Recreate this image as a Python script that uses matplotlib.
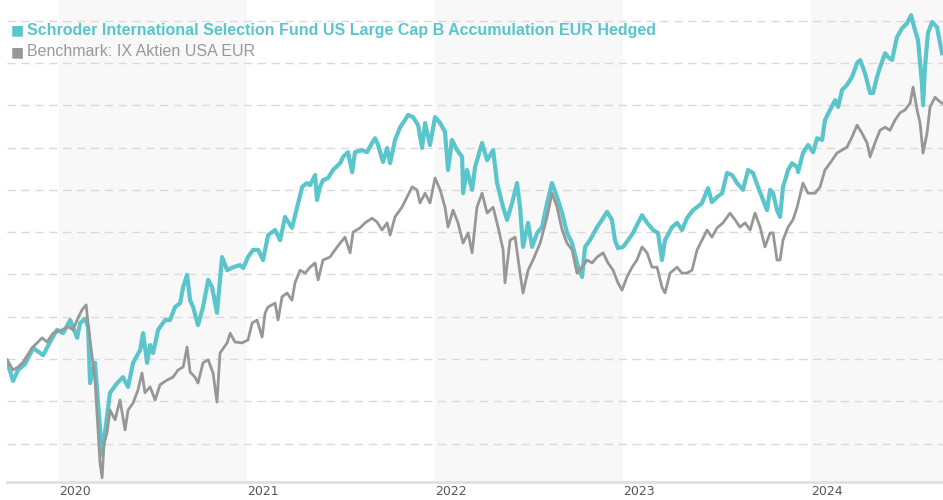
import matplotlib
matplotlib.use("Agg")
import matplotlib.pyplot as plt

# time in decimal years, values indexed (arbitrary scale, gridlines every 10)
fund_t = [2019.723, 2019.755, 2019.782, 2019.819, 2019.862, 2019.915, 2019.952, 2019.989,
          2020.021, 2020.059, 2020.096, 2020.112, 2020.138, 2020.154, 2020.165, 2020.191,
          2020.229, 2020.271, 2020.309, 2020.340, 2020.367, 2020.394, 2020.431, 2020.447,
          2020.468, 2020.484, 2020.500, 2020.527, 2020.564, 2020.590, 2020.617, 2020.644,
          2020.660, 2020.681, 2020.697, 2020.713, 2020.739, 2020.766, 2020.793, 2020.814,
          2020.840, 2020.867, 2020.894, 2020.926, 2020.963, 2020.979, 2021.005, 2021.032,
          2021.059, 2021.085, 2021.112, 2021.149, 2021.176, 2021.202, 2021.239, 2021.266,
          2021.293, 2021.319, 2021.335, 2021.362, 2021.372, 2021.388, 2021.404, 2021.431,
          2021.457, 2021.495, 2021.511, 2021.537, 2021.559, 2021.574, 2021.612, 2021.638,
          2021.665, 2021.681, 2021.697, 2021.723, 2021.745, 2021.761, 2021.787, 2021.814,
          2021.840, 2021.856, 2021.883, 2021.910, 2021.931, 2021.947, 2021.973, 2022.000,
          2022.027, 2022.053, 2022.069, 2022.090, 2022.117, 2022.144, 2022.149, 2022.170,
          2022.197, 2022.213, 2022.250, 2022.277, 2022.309, 2022.330, 2022.362, 2022.383,
          2022.410, 2022.436, 2022.452, 2022.468, 2022.495, 2022.516, 2022.543, 2022.569,
          2022.596, 2022.622, 2022.649, 2022.676, 2022.702, 2022.729, 2022.755, 2022.782,
          2022.798, 2022.824, 2022.862, 2022.888, 2022.915, 2022.941, 2022.957, 2022.973,
          2023.000, 2023.027, 2023.053, 2023.080, 2023.101, 2023.128, 2023.160, 2023.186,
          2023.207, 2023.223, 2023.261, 2023.287, 2023.314, 2023.340, 2023.372, 2023.394,
          2023.420, 2023.452, 2023.473, 2023.500, 2023.527, 2023.553, 2023.580, 2023.606,
          2023.638, 2023.665, 2023.691, 2023.718, 2023.745, 2023.766, 2023.782, 2023.798,
          2023.819, 2023.835, 2023.851, 2023.878, 2023.899, 2023.926, 2023.931, 2023.957,
          2023.984, 2024.011, 2024.032, 2024.059, 2024.074, 2024.101, 2024.128, 2024.144,
          2024.165, 2024.191, 2024.218, 2024.245, 2024.261, 2024.287, 2024.314, 2024.330,
          2024.351, 2024.367, 2024.394, 2024.410, 2024.431, 2024.457, 2024.484, 2024.511,
          2024.532, 2024.553, 2024.569, 2024.590, 2024.596, 2024.606, 2024.622, 2024.644,
          2024.670, 2024.697]
fund_v = [99.5, 94.8, 97.4, 98.8, 102.6, 100.9, 104.0, 106.9,
          106.1, 109.2, 105.0, 108.5, 109.5, 107.6, 94.3, 99.1,
          77.3, 92.0, 94.3, 95.7, 93.4, 99.1, 102.1, 106.1,
          99.1, 103.3, 101.4, 106.9, 109.2, 109.2, 112.3, 113.2,
          117.0, 119.9, 113.9, 112.3, 108.0, 112.3, 118.7, 117.0,
          110.9, 124.1, 121.0, 121.7, 122.2, 121.5, 124.1, 125.8,
          125.8, 123.4, 129.3, 130.5, 128.1, 133.6, 131.0, 135.9,
          140.7, 141.6, 141.1, 143.5, 137.6, 140.7, 142.3, 142.8,
          144.7, 146.3, 147.8, 148.9, 144.2, 148.9, 149.4, 148.9,
          151.1, 152.2, 150.6, 146.6, 149.9, 146.3, 151.8, 154.8,
          156.5, 157.7, 157.2, 155.3, 149.9, 155.8, 150.6, 157.2,
          155.8, 153.7, 144.7, 151.8, 149.4, 147.8, 139.2, 144.7,
          140.0, 145.4, 151.1, 147.0, 149.4, 141.6, 135.9, 132.9,
          136.9, 141.6, 135.9, 126.5, 132.2, 126.5, 129.8, 131.2,
          136.9, 141.6, 138.3, 134.5, 129.8, 127.4, 122.7, 119.4,
          126.5, 128.1, 131.2, 132.9, 134.8, 132.9, 128.1, 126.2,
          126.5, 128.1, 129.8, 132.2, 134.0, 132.2, 130.5, 129.8,
          123.4, 128.1, 131.2, 132.2, 130.5, 133.3, 135.2, 135.9,
          136.9, 140.4, 137.1, 138.3, 139.2, 144.0, 143.5, 141.6,
          140.0, 144.7, 144.0, 140.7, 137.6, 135.2, 140.0, 139.2,
          135.2, 133.6, 140.7, 144.7, 146.3, 145.4, 144.2, 148.7,
          150.6, 148.9, 152.2, 151.8, 156.5, 158.9, 161.2, 159.6,
          163.6, 164.8, 166.7, 170.0, 170.7, 167.6, 162.9, 162.9,
          166.7, 169.0, 172.3, 171.4, 170.7, 176.1, 178.2, 179.4,
          181.3, 177.8, 175.4, 165.2, 160.0, 169.0, 177.1, 179.7,
          178.5, 172.3]

bench_t = [2019.723, 2019.755, 2019.782, 2019.809, 2019.856, 2019.883, 2019.910, 2019.936,
           2019.968, 2020.016, 2020.048, 2020.074, 2020.101, 2020.122, 2020.144, 2020.154,
           2020.176, 2020.191, 2020.207, 2020.218, 2020.229, 2020.239, 2020.255, 2020.271,
           2020.298, 2020.324, 2020.351, 2020.367, 2020.394, 2020.420, 2020.441, 2020.457,
           2020.484, 2020.511, 2020.537, 2020.574, 2020.606, 2020.633, 2020.660, 2020.681,
           2020.697, 2020.723, 2020.739, 2020.766, 2020.793, 2020.819, 2020.840, 2020.856,
           2020.894, 2020.910, 2020.936, 2020.973, 2021.005, 2021.027, 2021.053, 2021.080,
           2021.096, 2021.112, 2021.149, 2021.165, 2021.186, 2021.213, 2021.239, 2021.255,
           2021.282, 2021.309, 2021.335, 2021.362, 2021.378, 2021.404, 2021.441, 2021.468,
           2021.495, 2021.521, 2021.548, 2021.564, 2021.601, 2021.628, 2021.665, 2021.691,
           2021.718, 2021.745, 2021.761, 2021.787, 2021.824, 2021.851, 2021.878, 2021.904,
           2021.920, 2021.947, 2021.973, 2022.000, 2022.027, 2022.053, 2022.069, 2022.096,
           2022.122, 2022.149, 2022.176, 2022.197, 2022.223, 2022.250, 2022.277, 2022.309,
           2022.335, 2022.362, 2022.372, 2022.399, 2022.426, 2022.452, 2022.468, 2022.495,
           2022.521, 2022.559, 2022.596, 2022.622, 2022.649, 2022.676, 2022.702, 2022.729,
           2022.755, 2022.782, 2022.809, 2022.835, 2022.862, 2022.894, 2022.920, 2022.947,
           2022.973, 2022.995, 2023.021, 2023.048, 2023.074, 2023.101, 2023.128, 2023.154,
           2023.181, 2023.207, 2023.223, 2023.250, 2023.287, 2023.314, 2023.340, 2023.367,
           2023.394, 2023.420, 2023.447, 2023.473, 2023.500, 2023.532, 2023.569, 2023.596,
           2023.622, 2023.649, 2023.676, 2023.702, 2023.729, 2023.755, 2023.782, 2023.798,
           2023.819, 2023.835, 2023.851, 2023.878, 2023.904, 2023.926, 2023.957, 2023.984,
           2024.021, 2024.048, 2024.074, 2024.101, 2024.138, 2024.165, 2024.191, 2024.218,
           2024.245, 2024.271, 2024.298, 2024.314, 2024.340, 2024.367, 2024.394, 2024.420,
           2024.447, 2024.473, 2024.500, 2024.527, 2024.543, 2024.564, 2024.580, 2024.596,
           2024.617, 2024.633, 2024.660, 2024.676, 2024.697]
bench_v = [99.8, 97.4, 98.1, 99.3, 102.6, 103.8, 105.0, 104.0,
           106.1, 106.9, 107.6, 106.9, 109.7, 111.6, 112.8, 108.5,
           100.5, 95.0, 83.2, 75.4, 71.9, 80.1, 82.5, 87.9,
           85.6, 90.3, 83.2, 87.9, 89.6, 92.7, 96.7, 92.0,
           93.4, 90.3, 93.9, 95.0, 95.7, 97.4, 98.1, 102.8,
           96.9, 95.7, 94.3, 99.1, 99.8, 96.7, 89.8, 101.4,
           103.8, 106.1, 104.0, 103.8, 104.5, 108.5, 109.2, 105.2,
           110.9, 112.3, 113.2, 109.2, 114.7, 115.6, 113.9, 118.0,
           121.0, 120.3, 121.7, 122.7, 118.7, 123.4, 124.1, 125.8,
           127.4, 128.8, 125.1, 130.0, 131.0, 132.2, 133.3, 132.4,
           130.5, 132.2, 129.3, 133.6, 135.9, 138.3, 140.7, 140.0,
           136.9, 139.2, 136.9, 142.8, 140.0, 135.9, 131.2, 135.2,
           132.2, 127.4, 129.8, 125.1, 135.9, 139.2, 134.5, 135.9,
           131.2, 125.8, 118.0, 128.1, 128.8, 120.3, 115.6, 121.0,
           123.4, 127.4, 133.6, 139.2, 135.9, 130.5, 127.4, 125.8,
           120.3, 121.7, 123.4, 122.7, 124.1, 125.1, 122.7, 121.0,
           118.0, 116.3, 119.4, 121.7, 123.4, 126.5, 125.1, 121.7,
           121.7, 117.0, 115.6, 120.3, 121.7, 120.3, 120.3, 121.0,
           125.8, 128.1, 130.5, 128.8, 131.0, 132.2, 134.5, 132.9,
           131.2, 132.2, 130.5, 134.5, 131.2, 126.5, 129.8, 129.8,
           123.4, 123.4, 128.1, 131.2, 132.9, 135.9, 141.6, 139.2,
           139.2, 140.7, 144.7, 146.3, 148.7, 149.4, 150.1, 152.5,
           155.3, 153.4, 151.1, 147.8, 151.1, 154.1, 154.8, 154.1,
           156.5, 158.2, 158.9, 160.5, 164.3, 158.9, 155.8, 148.7,
           153.4, 159.6, 161.9, 161.2, 160.5]

years = [2020, 2021, 2022, 2023, 2024]
shaded_years = [2020, 2022, 2024]
fund_name = "Schroder International Selection Fund US Large Cap B Accumulation EUR Hedged"
bench_name = "Benchmark: IX Aktien USA EUR"

teal = "#5bc5cc"
grey = "#979797"

fig = plt.figure(figsize=(9.43, 5.0), dpi=100)
ax = fig.add_axes([7 / 943, 18 / 500, 936 / 943, 482 / 500])

x0, x1 = 2019.723, 2024.702
ax.set_xlim(x0, x1)
ax.set_ylim(70.9, 184.9)

for yr in shaded_years:
    ax.axvspan(yr, min(yr + 1, x1), color="#f8f8f8", zorder=0, lw=0)

for g in range(80, 190, 10):
    ax.axhline(g, color="#dadada", lw=1.0, dashes=(6, 4), zorder=1)

ax.plot(fund_t, fund_v, color=teal, lw=3.0, zorder=3, solid_joinstyle="round")
ax.plot(bench_t, bench_v, color=grey, lw=2.0, zorder=4, solid_joinstyle="round")

for s in ["top", "right", "left"]:
    ax.spines[s].set_visible(False)
ax.spines["bottom"].set_color("#e0e0e0")
ax.spines["bottom"].set_linewidth(2)
ax.set_yticks([])
ax.set_xticks(years)
ax.set_xticklabels([str(y) for y in years], color="#555555", fontsize=9,
                   family="DejaVu Sans", ha="left")
ax.tick_params(axis="x", length=0, pad=2)

# legend as text at top left
fig.text(11 / 943, 1 - 30 / 500, "\u25a0", color=teal, fontsize=10, va="center",
         family="DejaVu Sans")
fig.text(27 / 943, 1 - 30 / 500, fund_name, color=teal, fontsize=11.5, fontweight="bold",
         va="center", family="Liberation Sans")
fig.text(11 / 943, 1 - 52 / 500, "\u25a0", color=grey, fontsize=10, va="center",
         family="DejaVu Sans")
fig.text(27 / 943, 1 - 52 / 500, bench_name, color="#999999", fontsize=11.5,
         va="center", family="Liberation Sans")

fig.savefig("out.png", dpi=100)
